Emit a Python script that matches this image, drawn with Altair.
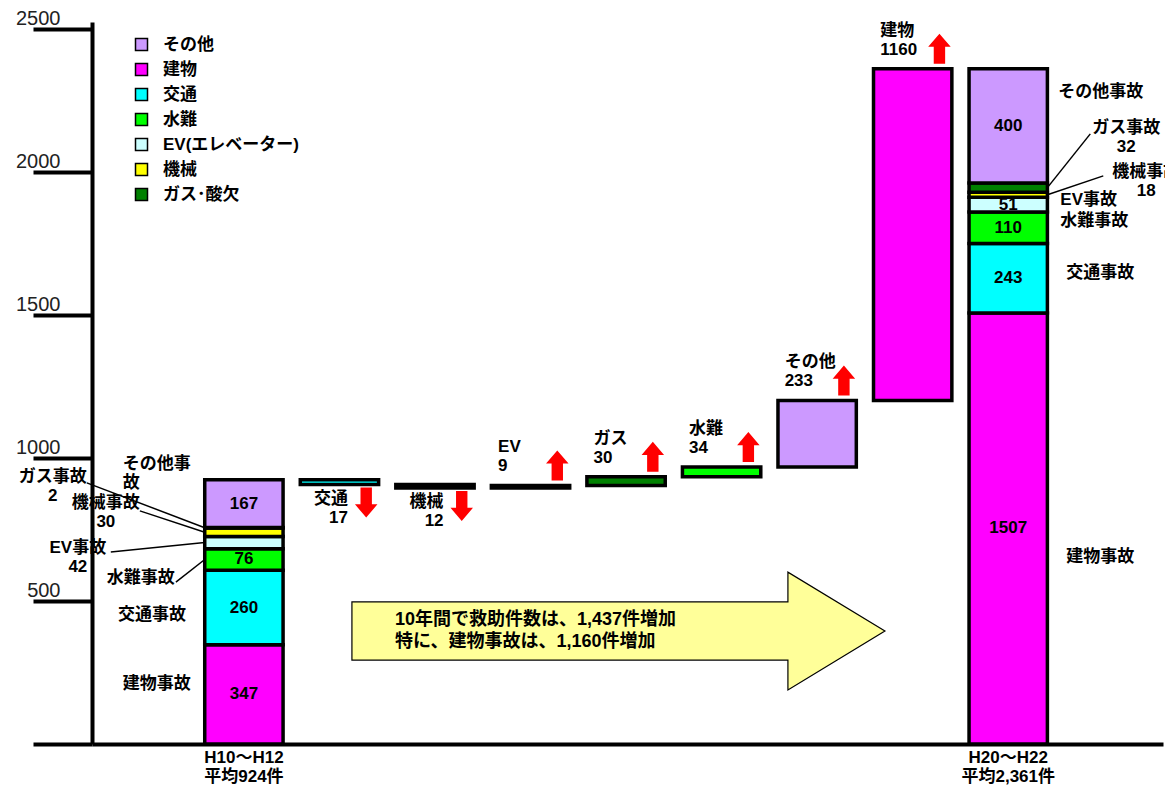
import altair as alt
import pandas as pd

# ---------------- data ----------------
categories = ["建物", "交通", "水難", "EV", "機械", "ガス", "その他"]  # stacking order bottom -> top
h10_h12 = [347, 260, 76, 42, 30, 2, 167]
h20_h22 = [1507, 243, 110, 51, 18, 32, 400]
step_categories = ["交通", "機械", "EV", "ガス", "水難", "その他", "建物"]
step_changes = [-17, -12, 9, 30, 34, 233, 1160]
legend_order = ["その他", "建物", "交通", "水難", "EV", "機械", "ガス"]
legend_colors = ["#CC99FF", "#FF00FF", "#00FFFF", "#00FF00", "#CCFFFF", "#FFFF00", "#008000"]
period_labels = ["H10～H12\n平均924件", "H20～H22\n平均2,361件"]
y_ticks = [0, 500, 1000, 1500, 2000, 2500]
summary_text = "10年間で救助件数は、1,437件増加\n特に、建物事故は、1,160件増加"
left_side_labels = ["その他事\n故", "ガス事故\n2", "機械事故\n30", "EV事故\n42", "水難事故", "交通事故", "建物事故"]
right_side_labels = ["その他事故", "ガス事故\n32", "機械事故\n18", "EV事故", "水難事故", "交通事故", "建物事故"]

# ---------------- layout (positions of annotations) ----------------
FONT = "Liberation Sans, Noto Sans CJK JP"
XDOM = [-1.59, 9.62]
YDOM = [0, 2524]
HALF = 0.41
FIRST, LAST = 0, 8

# side label anchors (first-line centre): (x in bar-slot units, y in data units, align)
left_layout = [(-1.267, 979, "left"), (-2.0, 933, "center"), (-1.445, 842, "center"),
               (-1.738, 685, "center"), (-1.079, 580, "center"), (-0.963, 451, "center"),
               (-0.911, 210, "center")]
right_layout = [(8.524, 2280, "left"), (9.236, 2155, "center"), (9.445, 1998, "center"),
                (8.545, 1902, "left"), (8.545, 1829, "left"), (8.607, 1647, "left"),
                (8.607, 654, "left")]
# leader lines: (slot, category, label-end x, label-end y)
leader_layout = [(FIRST, "ガス", -1.644, 913), (FIRST, "機械", -1.089, 815),
                 (FIRST, "EV", -1.393, 671), (FIRST, "水難", -0.712, 566),
                 (LAST, "ガス", 8.859, 2133), (LAST, "機械", 8.995, 1986)]
summary_pos = (3.92, 395)
summary_text_pos = (1.581, 395)

# ---------------- build tables ----------------
rects = []
for pos, vals in [(FIRST, h10_h12), (LAST, h20_h22)]:
    base = 0
    for c, v in zip(categories, vals):
        rects.append(dict(cat=c, x1=pos - HALF, x2=pos + HALF, y1=base, y2=base + v,
                          val=v, pos=pos, kind="total"))
        base += v
running = sum(h10_h12)
steps = []
for i, (c, d) in enumerate(zip(step_categories, step_changes), start=1):
    lo, hi = sorted([running, running + d])
    rects.append(dict(cat=c, x1=i - HALF, x2=i + HALF, y1=lo, y2=hi, val=d, pos=i, kind="step"))
    steps.append(dict(cat=c, d=d, pos=i, lo=lo, hi=hi))
    running += d
rect_df = pd.DataFrame(rects)

tot = rect_df[rect_df["kind"] == "total"].copy()
tot["mid"] = (tot["y1"] + tot["y2"]) / 2
inside_df = tot[tot["val"] >= 50].copy()
inside_df["label"] = inside_df["val"].astype(str)

step_df = pd.DataFrame(steps)
step_df["label"] = step_df["cat"] + "\n" + step_df["d"].abs().astype(str)
up_df = step_df[step_df["d"] > 0].copy()
up_df["tx"] = up_df["pos"] - 0.34
up_df["ax"] = up_df["pos"] + 0.28
down_df = step_df[step_df["d"] < 0].copy()
down_df["tx"] = down_df["pos"] + 0.09
down_df["ax"] = down_df["pos"] + 0.28

side_rows = []
for txt, (x, y, a) in zip(left_side_labels, left_layout):
    side_rows.append(dict(label=txt, x=x, y=y, anchor=a))
for txt, (x, y, a) in zip(right_side_labels, right_layout):
    side_rows.append(dict(label=txt, x=x, y=y, anchor=a))
side_df = pd.DataFrame(side_rows)

leader_rows = []
for pos, cat, lx, ly in leader_layout:
    seg = tot[(tot["pos"] == pos) & (tot["cat"] == cat)].iloc[0]
    ex = pos - HALF if pos == FIRST else pos + HALF
    leader_rows.append(dict(x=lx, y=ly, x2=ex, y2=float(seg["mid"])))
leader_df = pd.DataFrame(leader_rows)

period_df = pd.DataFrame(dict(label=period_labels, x=[FIRST, LAST], y=[0, 0]))
summary_df = pd.DataFrame(dict(x=[summary_pos[0]], y=[summary_pos[1]]))
summary_text_df = pd.DataFrame(dict(label=[summary_text], x=[summary_text_pos[0]], y=[summary_text_pos[1]]))

# ---------------- scales / axes shared by every layer ----------------
XSCALE = alt.Scale(domain=XDOM, nice=False, zero=False)
YSCALE = alt.Scale(domain=YDOM, nice=False)
XAXIS = alt.Axis(labels=False, ticks=False, grid=False, title=None,
                 domainWidth=4, domainColor="black")
YAXIS = alt.Axis(values=y_ticks, title=None, grid=False, format="d",
                 tickSize=59, tickWidth=4, tickColor="black",
                 domainWidth=4, domainColor="black",
                 labelExpr="datum.value == 0 ? '' : datum.label",
                 labelPadding=-27, labelBaseline="bottom", labelAlign="right",
                 labelFont="Liberation Sans", labelFontSize=20, labelColor="#222",
                 labelFlush=False, labelOverlap=False)


def X(f):
    return alt.X(f, type="quantitative", scale=XSCALE, axis=XAXIS)


def Y(f):
    return alt.Y(f, type="quantitative", scale=YSCALE, axis=YAXIS)


UP = "M0,-1L0.75,-0.12L0.38,-0.12L0.38,1L-0.38,1L-0.38,-0.12L-0.75,-0.12Z"
DOWN = "M0,1L0.75,0.12L0.38,0.12L0.38,-1L-0.38,-1L-0.38,0.12L-0.75,0.12Z"
BIG = "M-1,-0.109L0.636,-0.109L0.636,-0.221L1,0L0.636,0.221L0.636,0.109L-1,0.109Z"

bars = alt.Chart(rect_df).mark_rect(stroke="black", strokeWidth=3.5).encode(
    x=X("x1"), x2="x2:Q", y=Y("y1"), y2="y2:Q",
    color=alt.Color("cat:N", scale=alt.Scale(domain=legend_order, range=legend_colors),
                    legend=alt.Legend(title=None, orient="none", legendX=41, legendY=14,
                                      padding=0, symbolType="square", symbolSize=144,
                                      symbolStrokeColor="black", symbolStrokeWidth=1.5,
                                      symbolOpacity=1,
                                      labelFont=FONT, labelFontSize=17, labelFontWeight="bold",
                                      labelColor="black", labelOffset=13, rowPadding=6,
                                      labelExpr="datum.label == 'EV' ? 'EV(エレベーター)' : datum.label == 'ガス' ? 'ガス･酸欠' : datum.label")),
)

text_kw = dict(font=FONT, fontWeight="bold", fontSize=17, color="black", lineBreak="\n", lineHeight=19)

inside = alt.Chart(inside_df).mark_text(align="center", baseline="middle", **text_kw).encode(
    x=X("pos"), y=Y("mid"), text="label:N")

up_text = alt.Chart(up_df).mark_text(align="left", baseline="top", dy=-46, **text_kw).encode(
    x=X("tx"), y=Y("hi"), text="label:N")
down_text = alt.Chart(down_df).mark_text(align="right", baseline="top", dy=6, **text_kw).encode(
    x=X("tx"), y=Y("lo"), text="label:N")

up_arrows = alt.Chart(up_df).mark_point(shape=UP, size=900, filled=True, color="#FF0000",
                                        opacity=1, yOffset=-20).encode(x=X("ax"), y=Y("hi"))
down_arrows = alt.Chart(down_df).mark_point(shape=DOWN, size=900, filled=True, color="#FF0000",
                                            opacity=1, yOffset=18).encode(x=X("ax"), y=Y("lo"))

side_left = alt.Chart(side_df[side_df["anchor"] == "left"]).mark_text(
    align="left", baseline="middle", **text_kw).encode(x=X("x"), y=Y("y"), text="label:N")
side_center = alt.Chart(side_df[side_df["anchor"] == "center"]).mark_text(
    align="center", baseline="middle", **text_kw).encode(x=X("x"), y=Y("y"), text="label:N")

leaders = alt.Chart(leader_df).mark_rule(color="black", strokeWidth=1.5).encode(
    x=X("x"), y=Y("y"), x2="x2:Q", y2="y2:Q")

periods = alt.Chart(period_df).mark_text(align="center", baseline="top", dy=6, **text_kw).encode(
    x=X("x"), y=Y("y"), text="label:N")

summary_arrow = alt.Chart(summary_df).mark_point(shape=BIG, size=284089, filled=True, fill="#FFFF99",
                                                 stroke="black", strokeWidth=1.2, opacity=1).encode(
    x=X("x"), y=Y("y"))
summary_label = alt.Chart(summary_text_df).mark_text(align="left", baseline="middle", dy=-11,
                                                      font=FONT, fontWeight="bold", fontSize=18,
                                                      color="black", lineBreak="\n", lineHeight=22).encode(
    x=X("x"), y=Y("y"), text="label:N")

chart = alt.layer(
    bars, inside, up_text, down_text, up_arrows, down_arrows,
    leaders, side_left, side_center, periods, summary_arrow, summary_label
).properties(
    width=1071, height=722,
    padding={"left": 84, "top": 14, "right": 2, "bottom": 46},
    autosize=alt.AutoSizeParams(type="none"),
    background="white",
).configure_view(stroke=None)

chart.save("out.html", embed_options={"renderer": "svg", "actions": False})
